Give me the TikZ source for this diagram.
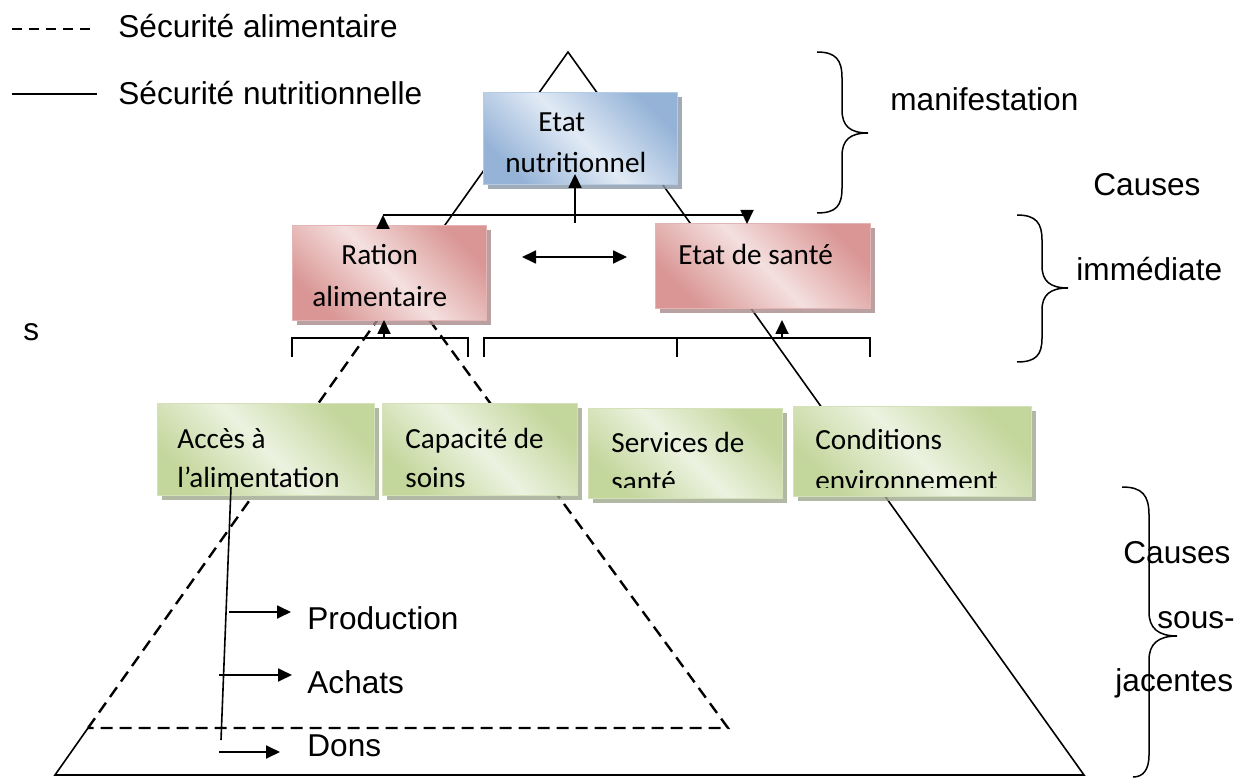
\documentclass[tikz,border=0pt]{standalone}
\usepackage{fontspec}
\setmainfont{Liberation Sans}
\newfontfamily\calib{Carlito}
\usetikzlibrary{arrows.meta,shadows}
\definecolor{bluedark}{RGB}{149,179,215}
\definecolor{bluelight}{RGB}{225,234,245}
\definecolor{pinkdark}{RGB}{217,150,148}
\definecolor{pinklight}{RGB}{244,224,223}
\definecolor{greendark}{RGB}{195,214,155}
\definecolor{greenlight}{RGB}{236,242,224}
\tikzset{
  cbox/.style={rectangle, inner sep=0pt, anchor=north west, draw=#1dark!70!white, line width=0.6pt,
    top color=#1dark, bottom color=#1dark, middle color=#1light, shading angle=-45,
    drop shadow={shadow xshift=2pt, shadow yshift=-2pt, fill=#1dark!45!gray, opacity=0.8}},
  lbl/.style={font=\fontsize{15.8}{19}\selectfont, inner sep=0pt, anchor=base west},
  btxt/.style={font=\calib\fontsize{14.6}{17}\selectfont, inner sep=0pt, anchor=base west},
  arr/.style={-{Triangle[length=7pt,width=6.5pt]}, line width=0.9pt},
  dbl/.style={{Triangle[length=7pt,width=6.5pt]}-{Triangle[length=7pt,width=6.5pt]}, line width=0.9pt},
  solidl/.style={line width=0.8pt},
  dashl/.style={line width=1.2pt, dash pattern=on 6pt off 3.5pt},
  bracel/.style={line width=0.75pt},
}
\begin{document}
\begin{tikzpicture}[x=0.5pt,y=-0.5pt]
\useasboundingbox (0,0) rectangle (1241,780);

% legend
\coordinate (l1a) at (12,29); \coordinate (l1b) at (93,29);
\coordinate (l2a) at (12,94); \coordinate (l2b) at (97,94);
\draw[line width=1.2pt, dash pattern=on 5pt off 3.5pt] (l1a) -- (l1b);
\draw[solidl] (l2a) -- (l2b);
\node[lbl] (leg1) at (118,38) {Sécurité alimentaire};
\node[lbl] (leg2) at (118,105) {Sécurité nutritionnelle};

% big solid triangle
\coordinate (tA) at (568,52);
\coordinate (tL) at (55,775);
\coordinate (tR) at (1084,775);
\coordinate (dL) at (88,728);
\coordinate (dA) at (403,284);
\coordinate (dR) at (728,728);
\draw[solidl] (dL) -- (tL) -- (tR) -- (tA) -- (dA);
% dashed triangle
\draw[dashl] (dL) -- (dA) -- (dR) -- cycle;

% boxes
\node[cbox=blue, minimum width=97pt, minimum height=46pt] (nut) at (483,92) {};
\node[cbox=pink, minimum width=97pt, minimum height=47.5pt] (ration) at (292,225) {};
\node[cbox=pink, minimum width=107.5pt, minimum height=42.5pt] (sante) at (655,223) {};
\node[cbox=green, minimum width=108.5pt, minimum height=46pt] (acces) at (157,403) {};
\node[cbox=green, minimum width=97.5pt, minimum height=46pt] (capa) at (382,403) {};
\node[cbox=green, minimum width=97pt, minimum height=45pt] (serv) at (588,408) {};
\node[cbox=green, minimum width=119pt, minimum height=45pt] (cond) at (793,406) {};

% box texts
\node[btxt] (nut1) at (538,132) {Etat};
\node[btxt] (nut2) at (505,173) {nutritionnel};
\node[btxt] (rat1) at (341,265) {Ration};
\node[btxt] (rat2) at (312,307) {alimentaire};
\node[btxt] (san1) at (678,265) {Etat de santé};
\node[btxt] (acc1) at (177,448) {Accès à};
\node[btxt] (acc2) at (177,487) {l’alimentation};
\node[btxt] (cap1) at (405,448) {Capacité de};
\node[btxt] (cap2) at (405,487) {soins};
\node[btxt] (ser1) at (611,452) {Services de};
\node[btxt] (con1) at (815,449) {Conditions};
\begin{scope}
  \clip (588,460) rectangle (1040,487);
  \node[btxt] (ser2) at (611,491) {santé};
  \node[btxt] (con2) at (815,490) {environnement};
\end{scope}

% top connectors
\coordinate (hL) at (383,215);
\coordinate (hR) at (747,215);
\coordinate (hM) at (575,215);
\draw[arr] (383,228) -- (hL);
\draw[line width=0.9pt] (hL) -- (hR);
\draw[arr] (hR) -- (747,224);
\draw[arr] (575,223) -- (575,174);
\draw[dbl] (522,257) -- (627,257);

% brackets
\draw[line width=0.9pt] (292,357) -- (292,338) -- (468,338) -- (468,357);
\draw[line width=0.9pt] (484,357) -- (484,338) -- (870,338) -- (870,357);
\draw[line width=0.9pt] (677,338) -- (677,357);
\draw[arr] (384,338) -- (384,320);
\draw[arr] (782,338) -- (782,320);

% access branch
\coordinate (vt) at (231,487);
\coordinate (vb) at (221,740);
\draw[solidl] (vt) -- (vb);
\draw[arr] (229,612) -- (291,612);
\draw[arr] (219,675) -- (292,675);
\draw[arr] (219,752) -- (280,752);
\node[lbl] (prod) at (307,629) {Production};
\node[lbl] (ach) at (307,693) {Achats};
\node[lbl] (dons) at (307,756) {Dons};

% stray s
\node[lbl] (s) at (23,341) {s};

% braces
\draw[bracel] (817,52) .. controls (836,52) and (842,60) .. (842,78) -- (842,110) .. controls (842,126) and (850,133) .. (868,133) .. controls (850,133) and (842,140) .. (842,156) -- (842,188) .. controls (842,206) and (836,213) .. (817,213);
\draw[bracel] (1017,215) .. controls (1036,215) and (1042,223) .. (1042,240) -- (1042,266) .. controls (1042,281) and (1050,288) .. (1068,288) .. controls (1050,288) and (1042,295) .. (1042,310) -- (1042,338) .. controls (1042,355) and (1036,362) .. (1017,362);
\draw[bracel] (1122,487) .. controls (1142,487) and (1149,495) .. (1149,515) -- (1149,612) .. controls (1149,628) and (1158,636) .. (1177,636) .. controls (1158,636) and (1149,644) .. (1149,660) -- (1149,755) .. controls (1149,770) and (1143,777) .. (1133,777);

\node[lbl] (manif) at (890,111) {manifestation};
\node[lbl] (caus1) at (1093,196) {Causes};
\node[lbl] (imm) at (1076,281) {immédiate};
\node[lbl] (caus2) at (1123,563) {Causes};
\node[lbl] (sous) at (1157,628) {sous-};
\node[lbl] (jac) at (1115,691) {jacentes};
\end{tikzpicture}
\end{document}
